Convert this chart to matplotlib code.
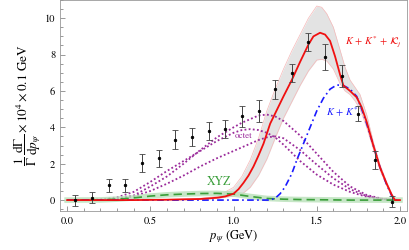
import matplotlib
matplotlib.use("Agg")
from matplotlib import pyplot as plt
from matplotlib.ticker import MultipleLocator
import numpy as np

# measured points (bins of 0.1 GeV)
data_x = [0.05, 0.15, 0.25, 0.35, 0.45, 0.55, 0.65, 0.75, 0.85, 0.95,
          1.05, 1.15, 1.25, 1.35, 1.45, 1.55, 1.65, 1.75, 1.85, 1.95]
data_y = [0.0, 0.13, 0.82, 0.82, 2.03, 2.29, 3.33, 3.45, 3.81, 3.92,
          4.6, 4.89, 6.08, 7.0, 8.68, 7.86, 6.8, 4.75, 2.2, -0.09]
data_err = [0.3, 0.3, 0.35, 0.35, 0.5, 0.45, 0.5, 0.5, 0.5, 0.5,
            0.6, 0.6, 0.5, 0.5, 0.5, 0.7, 0.6, 0.4, 0.5, 0.3]

# total K + K* + K_j
red_x = [0.0, 0.4, 0.6, 0.8, 0.9, 0.95, 1.0, 1.03, 1.06, 1.09, 1.12, 1.15, 1.18,
         1.22, 1.26, 1.3, 1.35, 1.4, 1.45, 1.48, 1.52, 1.55, 1.58, 1.61, 1.64,
         1.66, 1.7, 1.74, 1.77, 1.8, 1.84, 1.88, 1.92, 1.95, 1.97, 2.0]
red_y = [0.0, 0.0, 0.02, 0.06, 0.13, 0.2, 0.35, 0.6, 0.95, 1.35, 1.85, 2.45, 3.1,
         4.2, 4.95, 5.7, 6.6, 7.6, 8.55, 9.0, 9.2, 9.1, 8.75, 7.9, 6.9,
         6.3, 6.0, 5.65, 5.1, 4.3, 3.0, 1.8, 0.9, 0.3, 0.0, 0.0]

# uncertainty band of the total
band_x = [0.0, 0.4, 0.6, 0.8, 0.9, 1.0, 1.05, 1.1, 1.15, 1.2, 1.25, 1.3, 1.35,
          1.4, 1.45, 1.5, 1.53, 1.56, 1.6, 1.64, 1.67, 1.7, 1.73, 1.76, 1.8,
          1.84, 1.88, 1.92, 1.95, 1.97]
band_lo = [0.0, 0.0, 0.01, 0.04, 0.09, 0.22, 0.32, 0.7, 1.35, 2.25, 3.4, 4.5, 5.4,
           6.3, 7.1, 7.7, 7.74, 7.65, 7.2, 6.4, 6.0, 5.8, 5.45, 5.0, 4.0,
           2.8, 1.65, 0.8, 0.22, 0.0]
band_hi = [0.0, 0.01, 0.04, 0.1, 0.2, 0.7, 1.3, 2.2, 3.4, 4.9, 6.1, 7.2, 8.2,
           9.1, 10.0, 10.67, 10.6, 10.25, 9.5, 8.25, 7.3, 6.6, 6.2, 5.8, 4.7,
           3.2, 1.95, 1.0, 0.38, 0.0]

# K + K*
blue_x = [0.0, 1.22, 1.25, 1.28, 1.31, 1.35, 1.38, 1.42, 1.46, 1.5, 1.54, 1.58,
          1.62, 1.66, 1.7, 1.74, 1.77, 1.8, 1.84, 1.88, 1.92, 1.95, 1.97, 2.0]
blue_y = [0.0, 0.0, 0.1, 0.35, 0.73, 1.45, 2.2, 3.1, 4.0, 4.9, 5.6, 6.1,
          6.33, 6.3, 6.1, 5.7, 5.0, 4.2, 3.0, 1.8, 0.85, 0.25, 0.0, 0.0]

# XYZ
green_x = [0.0, 0.2, 0.3, 0.4, 0.5, 0.6, 0.7, 0.8, 0.9, 1.0, 1.1, 1.2, 1.3,
           1.4, 1.5, 1.6, 1.7, 2.0]
green_y = [0.0, 0.01, 0.05, 0.12, 0.22, 0.29, 0.33, 0.36, 0.37, 0.33, 0.2, 0.09, 0.05,
           0.03, 0.02, 0.01, 0.0, 0.0]

# octet, three parameter sets
oct_x = [0.0, 0.1, 0.2, 0.3, 0.4, 0.5, 0.6, 0.7, 0.8, 0.9, 1.0, 1.05, 1.1, 1.15,
         1.2, 1.25, 1.3, 1.4, 1.5, 1.6, 1.7, 1.8, 1.9, 2.0]
oct1_y = [0.0, 0.0, 0.03, 0.15, 0.45, 1.0, 1.6, 2.15, 2.7, 3.25, 3.7, 3.85, 3.9, 3.85,
          3.7, 3.45, 3.05, 2.15, 1.4, 0.85, 0.45, 0.18, 0.04, 0.0]
oct2_y = [0.0, 0.0, 0.02, 0.08, 0.25, 0.75, 1.3, 2.0, 2.75, 3.45, 4.0, 4.25, 4.45, 4.65,
          4.7, 4.6, 4.35, 3.55, 2.55, 1.55, 0.75, 0.28, 0.06, 0.0]
oct3_y = [0.0, 0.0, 0.0, 0.05, 0.2, 0.5, 0.9, 1.35, 1.85, 2.3, 2.7, 2.9, 3.1, 3.3,
          3.45, 3.5, 3.4, 2.75, 1.95, 1.2, 0.6, 0.22, 0.05, 0.0]

plt.rcParams['font.family'] = 'STIXGeneral'
plt.rcParams['mathtext.fontset'] = 'stix'

fig = plt.figure(figsize=(4.09, 2.50), dpi=100)
ax = fig.add_axes([0.147, 0.156, 0.848, 0.844])

purple = '#9a2a9a'
ax.fill_between(band_x, band_lo, band_hi, color='#e3e3e3', lw=0, zorder=1)
ax.plot(band_x, band_lo, color='#f5b8b8', lw=0.5, zorder=1)
ax.plot(band_x, band_hi, color='#f5b8b8', lw=0.5, zorder=1)

for y in (oct1_y, oct2_y, oct3_y):
    ax.plot(oct_x, y, color=purple, ls=(0, (1, 1.3)), lw=1.3, zorder=2)

ax.plot(green_x, green_y, color='#b8e0b8', lw=4, alpha=0.8, zorder=2)
ax.plot(green_x, green_y, color='#3a9e3a', ls=(0, (5, 3)), lw=1.2, zorder=3)
ax.plot(blue_x, blue_y, color='#1a1aff', ls=(0, (4, 2, 1, 2)), lw=1.2, zorder=3)
ax.plot(red_x, red_y, color='#f01010', lw=1.3, zorder=4)

ax.errorbar(data_x, data_y, yerr=data_err, fmt='o', color='black', ms=1.8, mew=0.6,
            ecolor='#444444', elinewidth=0.7, capsize=2, zorder=5)

ax.text(1.67, 8.7, r'$K\,+\,K^{*}\,+\,\mathcal{K}_j$', color='#f01010', fontsize=7.5,
        va='center', ha='left', zorder=6)
ax.text(1.555, 4.84, r'$K\,+\,K^{*}$', color='#1a1aff', fontsize=7.5, va='center',
        ha='left', zorder=6)
ax.text(1.06, 3.5, 'octet', color=purple, fontsize=6.5, va='center', ha='center', zorder=6)
ax.text(0.91, 0.97, 'XYZ', color='#3a9e3a', fontsize=8.5, va='center', ha='center', zorder=6)

ax.set_xlim(-0.042, 2.042)
ax.set_ylim(-0.6, 11.0)
ax.xaxis.set_major_locator(MultipleLocator(0.5))
ax.xaxis.set_minor_locator(MultipleLocator(0.1))
ax.yaxis.set_major_locator(MultipleLocator(2))
ax.yaxis.set_minor_locator(MultipleLocator(0.5))
ax.xaxis.set_major_formatter(matplotlib.ticker.FormatStrFormatter('%.1f'))
ax.tick_params(which='both', direction='in', top=False, right=False,
               labelsize=7.5, color='#888888', width=0.6)
ax.tick_params(which='major', length=3.5)
ax.tick_params(which='minor', length=2)
for s in ax.spines.values():
    s.set_color('#999999')
    s.set_linewidth(0.6)

ax.set_xlabel(r'$p_{\psi}$ (GeV)', fontsize=9, labelpad=2)
ax.set_ylabel(r'$\dfrac{1}{\Gamma}\,\dfrac{\mathrm{d}\Gamma}{\mathrm{d}p_{\psi}}\times 10^4\times 0.1$ GeV',
              fontsize=9.5, labelpad=1)

fig.savefig('out.png', dpi=100)
